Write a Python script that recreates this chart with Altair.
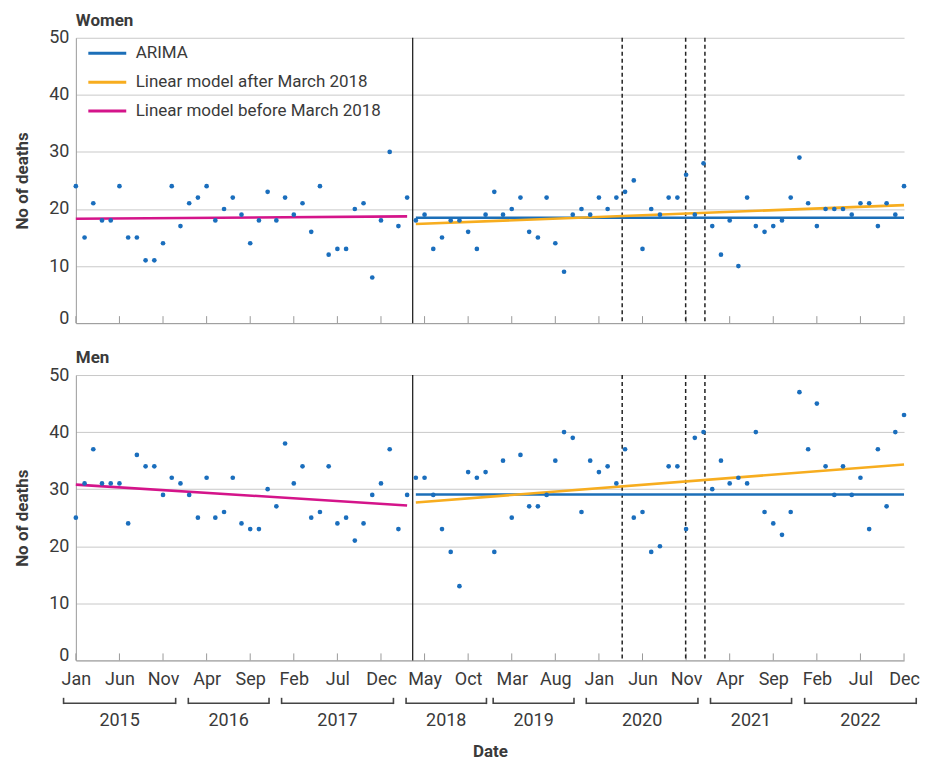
import altair as alt
import pandas as pd

# ---------------- data ----------------
month_names = ['Jan', 'Feb', 'Mar', 'Apr', 'May', 'Jun', 'Jul', 'Aug', 'Sep', 'Oct', 'Nov', 'Dec']
month_index = list(range(96))          # Jan 2015 (0) ... Dec 2022 (95)
tick_months = list(range(0, 96, 5))    # Jan, Jun, Nov, Apr ...

women_deaths = [24, 15, 21, 18, 18, 24, 15, 15, 11, 11, 14, 24,
                17, 21, 22, 24, 18, 20, 22, 19, 14, 18, 23, 18,
                22, 19, 21, 16, 24, 12, 13, 13, 20, 21, 8, 18,
                30, 17, 22, 18, 19, 13, 15, 18, 18, 16, 13, 19,
                23, 19, 20, 22, 16, 15, 22, 14, 9, 19, 20, 19,
                22, 20, 22, 23, 25, 13, 20, 19, 22, 22, 26, 19,
                28, 17, 12, 18, 10, 22, 17, 16, 17, 18, 22, 29,
                21, 17, 20, 20, 20, 19, 21, 21, 17, 21, 19, 24]

men_deaths = [25, 31, 37, 31, 31, 31, 24, 36, 34, 34, 29, 32,
              31, 29, 25, 32, 25, 26, 32, 24, 23, 23, 30, 27,
              38, 31, 34, 25, 26, 34, 24, 25, 21, 24, 29, 31,
              37, 23, 29, 32, 32, 29, 23, 19, 13, 33, 32, 33,
              19, 35, 25, 36, 27, 27, 29, 35, 40, 39, 26, 35,
              33, 34, 31, 37, 25, 26, 19, 20, 34, 34, 23, 39,
              40, 30, 35, 31, 32, 31, 40, 26, 24, 22, 26, 47,
              37, 45, 34, 29, 34, 29, 32, 23, 37, 27, 40, 43]

models = ['ARIMA', 'Linear model after March 2018', 'Linear model before March 2018']
model_colors = ['#1c6fb8', '#f7ad1f', '#d4148a']

# fitted model end points (month index, value)
fit_months = {'ARIMA': [39, 95],
              'Linear model after March 2018': [39, 95],
              'Linear model before March 2018': [0, 38]}
women_fit = {'ARIMA': [18.46, 18.46],
             'Linear model after March 2018': [17.36, 20.68],
             'Linear model before March 2018': [18.29, 18.70]}
men_fit = {'ARIMA': [29.06, 29.06],
           'Linear model after March 2018': [27.67, 34.33],
           'Linear model before March 2018': [30.80, 27.15]}

intervention_month = [38.64]             # March 2018
lockdown_months = [62.67, 69.95, 72.16]  # 2020-2021 lockdowns

years = ['2015', '2016', '2017', '2018', '2019', '2020', '2021', '2022']
year_start = [-1.41, 12.90, 23.60, 37.88, 47.87, 58.55, 72.80, 83.60]
year_end = [11.45, 22.16, 36.43, 47.10, 57.14, 71.36, 82.10, 96.40]

# ---------------- styling ----------------
W, H = 830, 286
FONT = 'Roboto'
TXT = '#3a3a3a'
month_expr = "['" + "','".join(month_names) + "'][datum.value % 12]"

xscale = alt.Scale(domain=[0, 95], nice=False, zero=False)
yscale = alt.Scale(domain=[0, 50], nice=False)


def panel(title, deaths, fit, show_legend, bottom):
    pts = pd.DataFrame({'month': month_index, 'deaths': deaths})
    rows = []
    for m in models:
        for mm, vv in zip(fit_months[m], fit[m]):
            rows.append({'model': m, 'month': mm, 'deaths': vv})
    lines = pd.DataFrame(rows)

    if bottom:
        xaxis = alt.Axis(values=tick_months, labelExpr=month_expr, ticks=False, grid=False,
                         labelFlush=False, labelOverlap=False,
                         labelFontSize=18, labelFont=FONT, labelColor=TXT, labelPadding=10,
                         domainColor='#9a9a9a', title='Date', titleFont=FONT, titleFontSize=17,
                         titleFontWeight='bold', titleColor=TXT, titlePadding=55)
    else:
        xaxis = alt.Axis(values=tick_months, labels=False, ticks=False, grid=False,
                         domainColor='#9a9a9a', title=None)
    yaxis = alt.Axis(values=[0, 10, 20, 30, 40, 50], ticks=False, grid=True, gridColor='#c9c9c9',
                     domainColor='#9a9a9a', labelFontSize=18, labelFont=FONT, labelColor=TXT,
                     labelBaseline={'condition': {'test': 'datum.value === 0',
                                                  'value': 'alphabetic'},
                                    'value': 'middle'},
                     labelPadding=7, title='No of deaths', titleFont=FONT, titleFontSize=17,
                     titleFontWeight='bold', titleColor=TXT, titlePadding=17)

    x = alt.X('month:Q', scale=xscale, axis=xaxis)

    if show_legend:
        legend = alt.Legend(title=None, orient='none', legendX=11, legendY=-5,
                            symbolType='stroke', symbolSize=1444, symbolStrokeWidth=3,
                            labelFontSize=17, labelFont=FONT, labelColor=TXT, labelOffset=8,
                            rowPadding=-8.5, padding=0, labelLimit=400)
    else:
        legend = None

    grid_base = alt.Chart(pts).mark_point(opacity=0).encode(
        x=x, y=alt.Y('deaths:Q', scale=yscale, axis=yaxis))

    ticks = alt.Chart(pd.DataFrame({'month': tick_months})).mark_rule(
        color='#9a9a9a', strokeWidth=1).encode(
        x=alt.X('month:Q', scale=xscale), y=alt.value(H - 7), y2=alt.value(H))

    vline = alt.Chart(pd.DataFrame({'month': intervention_month})).mark_rule(
        color='#111111', strokeWidth=1.2).encode(x=alt.X('month:Q', scale=xscale))
    dlines = alt.Chart(pd.DataFrame({'month': lockdown_months})).mark_rule(
        color='#222222', strokeWidth=1.5, strokeDash=[4, 3]).encode(
        x=alt.X('month:Q', scale=xscale))

    fits = alt.Chart(lines).mark_line(strokeWidth=2.6).encode(
        x=alt.X('month:Q', scale=xscale),
        y=alt.Y('deaths:Q', scale=yscale),
        color=alt.Color('model:N', scale=alt.Scale(domain=models, range=model_colors),
                        legend=legend),
        detail='model:N')

    dots = alt.Chart(pts).mark_circle(size=22, color='#1a6ebd', opacity=1).encode(
        x=alt.X('month:Q', scale=xscale), y=alt.Y('deaths:Q', scale=yscale))

    layers = [grid_base, ticks, vline, dlines, fits, dots]

    if bottom:
        yr = pd.DataFrame({'year': years, 'start': year_start, 'end': year_end})
        yr['center'] = (yr['start'] + yr['end']) / 2
        hbar = alt.Chart(yr).mark_rule(color='#444444', strokeWidth=1.6, clip=False).encode(
            x=alt.X('start:Q', scale=xscale), x2='end:Q', y=alt.value(H + 43))
        lend = alt.Chart(yr).mark_rule(color='#444444', strokeWidth=1.6, clip=False).encode(
            x=alt.X('start:Q', scale=xscale), y=alt.value(H + 37.5), y2=alt.value(H + 43.8))
        rend = alt.Chart(yr).mark_rule(color='#444444', strokeWidth=1.6, clip=False).encode(
            x=alt.X('end:Q', scale=xscale), y=alt.value(H + 37.5), y2=alt.value(H + 43.8))
        ylab = alt.Chart(yr).mark_text(fontSize=18, font=FONT, color=TXT, clip=False).encode(
            x=alt.X('center:Q', scale=xscale), y=alt.value(H + 61), text='year:N')
        layers += [hbar, lend, rend, ylab]

    return alt.layer(*layers).properties(
        width=W, height=H,
        title=alt.TitleParams(title, anchor='start', frame='group', fontSize=17,
                              fontWeight='bold', font=FONT, color=TXT, offset=-1))


women = panel('Women', women_deaths, women_fit, True, False)
men = panel('Men', men_deaths, men_fit, False, True)

chart = alt.vconcat(women, men, spacing=22).resolve_scale(
    color='independent').resolve_legend(color='independent').configure_view(
    stroke=None).properties(padding={'left': 5, 'top': 3, 'right': 0, 'bottom': 0})

chart.save('out.html', embed_options={'renderer': 'svg', 'actions': False})
